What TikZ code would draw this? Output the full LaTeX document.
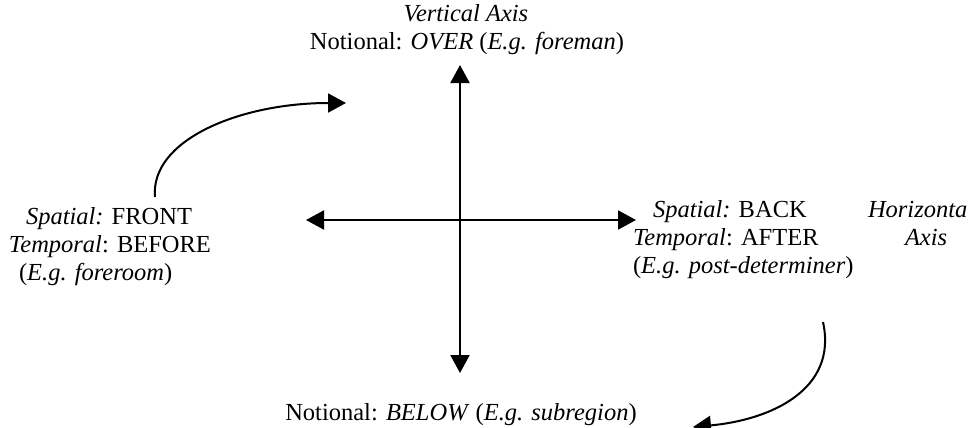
\documentclass[tikz,border=0pt]{standalone}
\usepackage{fontspec}
\setmainfont{Liberation Serif}
\usetikzlibrary{arrows.meta}
\begin{document}
\begin{tikzpicture}[x=0.5pt,y=-0.5pt,
  lbl/.style={anchor=base west,inner sep=0pt,outer sep=0pt,font=\fontsize{12.25}{14}\selectfont},
  axisline/.style={line width=1pt,-{Triangle[length=9pt,width=9.5pt]}},
  curvearrow/.style={line width=1pt,-{Triangle[length=9pt,width=9.5pt]}}]
\useasboundingbox (0,0) rectangle (976,428);

% axes
\coordinate (c) at (460,220);
\coordinate (top) at (460,65);
\coordinate (bottom) at (460,373);
\coordinate (left) at (306,220);
\coordinate (right) at (636,220);
\draw[axisline] (c) -- (top);
\draw[axisline] (c) -- (bottom);
\draw[axisline] (c) -- (left);
\draw[axisline] (c) -- (right);

% labels of the vertical axis
\node[lbl,anchor=base] (vtitle) at (466,21) {\textit{Vertical Axis}};
\node[lbl,anchor=base] (over) at (467,49) {Notional: \textit{OVER} (\textit{E.g. foreman})};
\node[lbl,anchor=base] (below) at (461,420) {Notional: \textit{BELOW} (\textit{E.g. subregion})};

% left end
\node[lbl] (front) at (26,224) {\textit{Spatial:} FRONT};
\node[lbl] (before) at (9,252) {\textit{Temporal}: BEFORE};
\node[lbl] (foreroom) at (19,280) {(\textit{E.g. foreroom})};

% right end
\node[lbl] (back) at (653,217) {\textit{Spatial:} BACK};
\node[lbl] (after) at (633,245) {\textit{Temporal}: AFTER};
\node[lbl] (postdet) at (633,273) {(\textit{E.g. post-determiner})};
\node[lbl] (htitle) at (868,217) {\textit{Horizonta}};
\node[lbl] (haxis) at (905,245) {\textit{Axis}};

% curved arrows
\coordinate (s1) at (155,197);
\coordinate (e1) at (346,103);
\draw[curvearrow] (s1) .. controls (150,140) and (240,103) .. (e1);
\coordinate (s2) at (823,322);
\coordinate (e2) at (693,427);
\draw[curvearrow] (s2) .. controls (838,390) and (770,420) .. (e2);
\end{tikzpicture}
\end{document}
